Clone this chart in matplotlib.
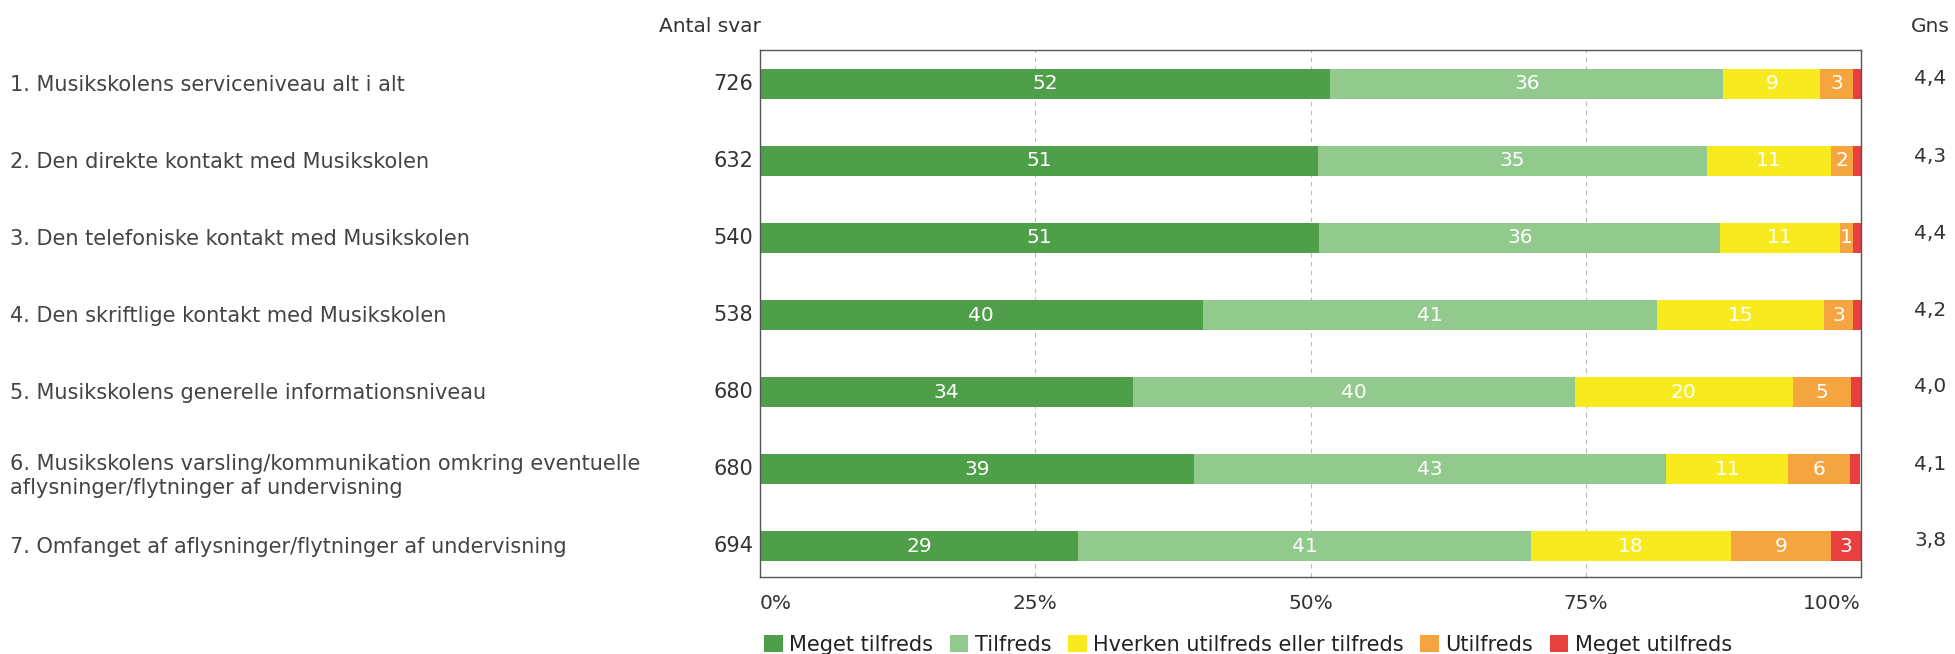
import numpy as np
import matplotlib.pyplot as plt

questions = [
    '1. Musikskolens serviceniveau alt i alt',
    '2. Den direkte kontakt med Musikskolen',
    '3. Den telefoniske kontakt med Musikskolen',
    '4. Den skriftlige kontakt med Musikskolen',
    '5. Musikskolens generelle informationsniveau',
    '6. Musikskolens varsling/kommunikation omkring eventuelle\naflysninger/flytninger af undervisning',
    '7. Omfanget af aflysninger/flytninger af undervisning',
]
antal_svar = [726, 632, 540, 538, 680, 680, 694]
gns = ['4,4', '4,3', '4,4', '4,2', '4,0', '4,1', '3,8']

categories = ['Meget tilfreds', 'Tilfreds', 'Hverken utilfreds eller tilfreds',
              'Utilfreds', 'Meget utilfreds']
meget_tilfreds = [51.8, 50.7, 50.8, 40.2, 33.9, 39.4, 28.9]
tilfreds = [35.7, 35.3, 36.4, 41.3, 40.1, 42.9, 41.1]
hverken = [8.8, 11.3, 10.9, 15.1, 19.8, 11.1, 18.2]
utilfreds = [3.0, 2.0, 1.2, 2.7, 5.3, 5.6, 9.1]
meget_utilfreds = [0.7, 0.7, 0.7, 0.7, 0.9, 0.9, 2.7]

colors = ['#4f9f4a', '#92c98d', '#f7ea1e', '#f5a53f', '#e8403f']
FS = 14.5

fig = plt.figure(figsize=(19.55, 6.54), dpi=100)
ax = fig.add_axes([760 / 1955, 1 - 577 / 654, 1101 / 1955, 527 / 654])

y = np.arange(len(questions))
left = np.zeros(len(questions))
series = [meget_tilfreds, tilfreds, hverken, utilfreds, meget_utilfreds]
for vals, col, name in zip(series, colors, categories):
    vals = np.array(vals)
    ax.barh(y, vals, left=left, height=0.39, color=col, label=name, zorder=2)
    for yi, v, l in zip(y, vals, left):
        if v >= 1.0:
            ax.text(l + v / 2, yi, f'{round(v)}', ha='center', va='center',
                    color='white', fontsize=FS, zorder=3)
    left += vals

ax.set_xlim(0, 100)
ax.set_ylim(6.40, -0.44)
ax.set_yticks([])
ax.set_xticks([0, 25, 50, 75, 100])
ax.set_xticklabels(['0%', '25%', '50%', '75%', '100%'], fontsize=FS, color='#333333')
ax.tick_params(axis='x', length=0, pad=12)
tl = ax.get_xticklabels()
tl[0].set_ha('left')
tl[-1].set_ha('right')
ax.xaxis.grid(True, linestyle=(0, (4, 4)), color='#bbbbbb', linewidth=0.8, zorder=0)
for s in ax.spines.values():
    s.set_color('#555555')
    s.set_linewidth(1)

for yi, q, n, g in zip(y, questions, antal_svar, gns):
    fy = 1 - (85 + 77 * yi) / 654
    ax.text(-0.6, yi, str(n), ha='right', va='center', fontsize=15, color='#333333')
    fig.text(1930 / 1955, fy + 6 / 654, g, ha='center', va='center', fontsize=FS,
             color='#333333')
    fig.text(10 / 1955, fy - (6 / 654 if '\n' in q else 0), q, ha='left', va='center',
             fontsize=15, color='#444444', linespacing=1.3)

fig.text(710 / 1955, 1 - 27 / 654, 'Antal svar', ha='center', va='center',
         fontsize=FS, color='#333333')
fig.text(1930 / 1955, 1 - 27 / 654, 'Gns', ha='center', va='center',
         fontsize=FS, color='#333333')

fig.legend(loc='center left', bbox_to_anchor=(764 / 1955, 1 - 645 / 654), ncol=5,
           frameon=False, fontsize=15, handlelength=0.9, handleheight=0.9,
           handletextpad=0.3, columnspacing=0.8, labelcolor='#222222',
           borderpad=0, borderaxespad=0)

fig.savefig('out.png', dpi=100)
